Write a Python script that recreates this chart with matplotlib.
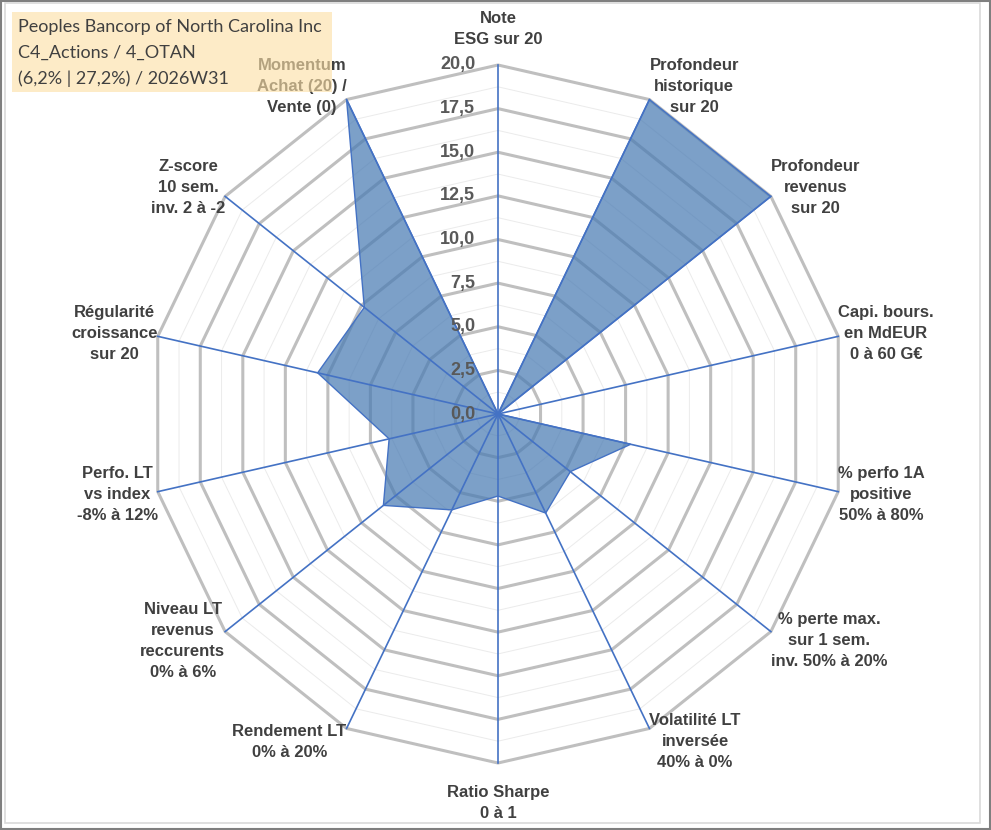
import numpy as np
import matplotlib.pyplot as plt
from matplotlib.patches import Rectangle, Polygon

axis_labels = [
    "Note\nESG sur 20",
    "Profondeur\nhistorique\nsur 20",
    "Profondeur\nrevenus\nsur 20",
    "Capi. bours.\nen MdEUR\n0 à 60 G€",
    "% perfo 1A\npositive\n50% à 80%",
    "% perte max.\nsur 1 sem.\ninv. 50% à 20%",
    "Volatilité LT\ninversée\n40% à 0%",
    "Ratio Sharpe\n0 à 1",
    "Rendement LT\n0% à 20%",
    "Niveau LT\nrevenus\nreccurents\n0% à 6%",
    "Perfo. LT\nvs index\n-8% à 12%",
    "Régularité\ncroissance\nsur 20",
    "Z-score\n10 sem.\ninv. 2 à -2",
    "Momentum\nAchat (20) /\nVente (0)",
]
scores = [0, 20, 20, 0, 7.8, 5.3, 6.3, 4.7, 6.1, 8.4, 6.4, 10.6, 9.8, 20]
ticks = [0, 2.5, 5, 7.5, 10, 12.5, 15, 17.5, 20]
title_lines = [
    "Peoples Bancorp of North Carolina Inc",
    "C4_Actions / 4_OTAN",
    "(6,2% | 27,2%) / 2026W31",
]

W, H = 991, 830
fig = plt.figure(figsize=(W / 100, H / 100), dpi=100)
ax = fig.add_axes([0, 0, 1, 1])

# échelle : centre à (498, 414) px, 20 = 349 px
cx, cy, rpx = 498, 414, 349
k = 20 / rpx
ax.set_xlim(-cx * k, (W - cx) * k)
ax.set_ylim(-(H - cy) * k, cy * k)
ax.axis("off")

n = len(axis_labels)
ang = np.pi / 2 - np.arange(n) * 2 * np.pi / n
ca, sa = np.cos(ang), np.sin(ang)

# anneaux secondaires et principaux
for v in np.arange(1.25, 20, 2.5):
    ax.add_patch(Polygon(np.c_[v * ca, v * sa], closed=True, fill=False,
                         ec="#ebebeb", lw=0.7, zorder=1))
for v in ticks[1:]:
    ax.add_patch(Polygon(np.c_[v * ca, v * sa], closed=True, fill=False,
                         ec="#bfbfbf", lw=2.2, zorder=2))

# série
s = np.array(scores)
ax.add_patch(Polygon(np.c_[s * ca, s * sa], closed=True, fc="#497bb3", alpha=0.72,
                     ec="none", zorder=3))
ax.add_patch(Polygon(np.c_[s * ca, s * sa], closed=True, fill=False,
                     ec="#4472c4", lw=1.0, zorder=4))

# rayons
for c, sn in zip(ca, sa):
    ax.plot([0, 20 * c], [0, 20 * sn], color="#4472c4", lw=1.2, zorder=5)

# graduations
for v in ticks:
    ax.text(-1.3, v, f"{v:.1f}".replace(".", ","), ha="right", va="center",
            fontsize=13, fontweight="bold", color="#595959",
            family="Liberation Sans", zorder=6)

# étiquettes des axes
lab_kw = dict(multialignment="center", fontsize=12, fontweight="bold",
              color="#404040", family="Liberation Sans", linespacing=1.5, zorder=6)
for lab, c, sn in zip(axis_labels, ca, sa):
    if abs(c) < 0.01:
        va = "bottom" if sn > 0 else "top"
        off = 1.05 if sn > 0 else 1.25
        ax.text(0, 20 * sn + off * np.sign(sn), lab, ha="center", va=va, **lab_kw)
    else:
        ha = "left" if c > 0 else "right"
        ax.text(20 * c, 20 * sn + 0.85 * sn, lab, ha=ha, va="center", **lab_kw)

# cadre
fig.patches.append(Rectangle((1 / W, 1 / H), 1 - 2 / W, 1 - 2 / H, transform=fig.transFigure,
                             fill=False, ec="#7f7f7f", lw=1.5, zorder=0))
fig.patches.append(Rectangle((5 / W, 7 / H), 975 / W, 820 / H, transform=fig.transFigure,
                             fill=False, ec="#d9d9d9", lw=1.2, zorder=0))

# cartouche titre
ax.add_artist(Rectangle((12 / W, 1 - 92 / H), 320 / W, 80 / H, transform=fig.transFigure,
                        fc="#fce0a6", alpha=0.62, ec="none", zorder=10))
for i, line in enumerate(title_lines):
    fig.text(18 / W, 1 - (27 + 26 * i) / H, line, ha="left", va="center",
             fontsize=13, color="#404040", family="Lato", zorder=11)

fig.savefig("out.png", dpi=100)
